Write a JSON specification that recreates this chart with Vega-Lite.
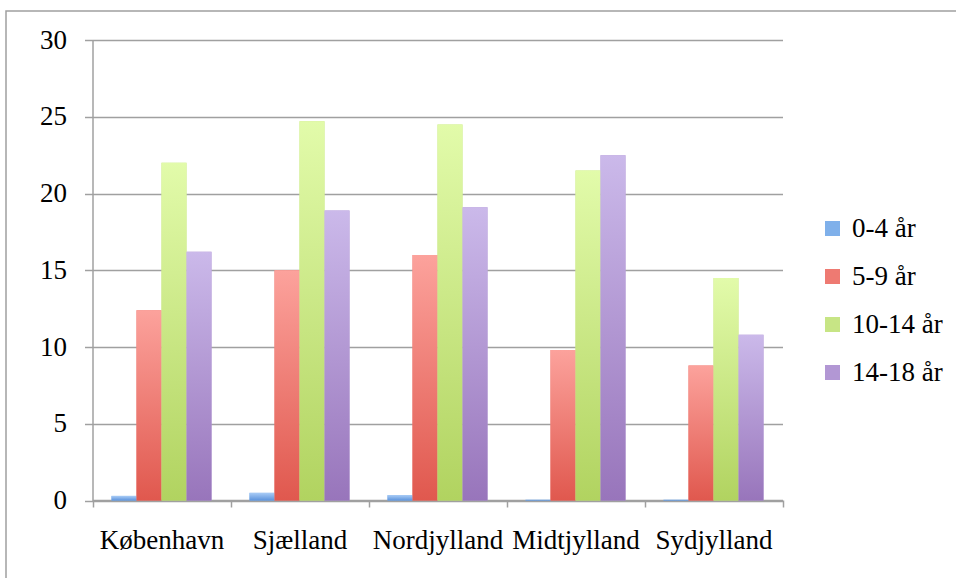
{
  "$schema": "https://vega.github.io/schema/vega-lite/v6.json",
  "width": 953,
  "height": 570,
  "padding": {"left": 6, "top": 11, "right": 0, "bottom": 0},
  "background": "white",
  "config": {
    "view": {"stroke": "#a0a0a0", "strokeWidth": 1.5},
    "font": "Liberation Serif, Times New Roman, serif"
  },
  "data": {
    "values": [
      {"region": "København", "age": "0-4 år", "value": 0.3},
      {"region": "København", "age": "5-9 år", "value": 12.4},
      {"region": "København", "age": "10-14 år", "value": 22.0},
      {"region": "København", "age": "14-18 år", "value": 16.2},
      {"region": "Sjælland", "age": "0-4 år", "value": 0.5},
      {"region": "Sjælland", "age": "5-9 år", "value": 15.0},
      {"region": "Sjælland", "age": "10-14 år", "value": 24.7},
      {"region": "Sjælland", "age": "14-18 år", "value": 18.9},
      {"region": "Nordjylland", "age": "0-4 år", "value": 0.35},
      {"region": "Nordjylland", "age": "5-9 år", "value": 16.0},
      {"region": "Nordjylland", "age": "10-14 år", "value": 24.5},
      {"region": "Nordjylland", "age": "14-18 år", "value": 19.1},
      {"region": "Midtjylland", "age": "0-4 år", "value": 0.05},
      {"region": "Midtjylland", "age": "5-9 år", "value": 9.8},
      {"region": "Midtjylland", "age": "10-14 år", "value": 21.5},
      {"region": "Midtjylland", "age": "14-18 år", "value": 22.5},
      {"region": "Sydjylland", "age": "0-4 år", "value": 0.05},
      {"region": "Sydjylland", "age": "5-9 år", "value": 8.8},
      {"region": "Sydjylland", "age": "10-14 år", "value": 14.5},
      {"region": "Sydjylland", "age": "14-18 år", "value": 10.8}
    ]
  },
  "encoding": {
    "x": {
      "field": "region",
      "type": "nominal",
      "sort": ["København", "Sjælland", "Nordjylland", "Midtjylland", "Sydjylland"],
      "scale": {"type": "band", "range": [86.5, 776.5], "paddingInner": 0, "paddingOuter": 0},
      "axis": {
        "title": null,
        "orient": "bottom",
        "offset": -81,
        "labelAngle": 0,
        "tickBand": "extent",
        "tickSize": 7,
        "tickColor": "#a0a0a0",
        "tickWidth": 1.5,
        "domainColor": "#a0a0a0",
        "domainWidth": 1.5,
        "labelPadding": 20,
        "labelFont": "Liberation Serif, Times New Roman, serif",
        "labelFontSize": 27,
        "labelColor": "#000000",
        "grid": false
      }
    },
    "xOffset": {
      "field": "age",
      "type": "nominal",
      "sort": ["0-4 år", "5-9 år", "10-14 år", "14-18 år"],
      "scale": {"paddingInner": 0, "paddingOuter": 0.76}
    },
    "y": {
      "field": "value",
      "type": "quantitative",
      "scale": {"domain": [0, 30], "range": [489.5, 29], "nice": false, "zero": true},
      "axis": {
        "title": null,
        "offset": -86.5,
        "values": [0, 5, 10, 15, 20, 25, 30],
        "tickSize": 8,
        "tickColor": "#a0a0a0",
        "tickWidth": 1.5,
        "domainColor": "#a0a0a0",
        "domainWidth": 1.5,
        "grid": true,
        "gridColor": "#a0a0a0",
        "gridWidth": 1.5,
        "labelPadding": 18,
        "labelFont": "Liberation Serif, Times New Roman, serif",
        "labelFontSize": 27,
        "labelColor": "#000000"
      }
    }
  },
  "layer": [
    {
      "mark": {"type": "bar"},
      "encoding": {
        "color": {
          "field": "age",
          "type": "nominal",
          "sort": ["0-4 år", "5-9 år", "10-14 år", "14-18 år"],
          "scale": {"range": ["#7fb0ea", "#ee7a72", "#c7e585", "#b297d4"]},
          "legend": {
            "title": null,
            "orient": "none",
            "legendX": 813,
            "legendY": 204,
            "symbolType": "square",
            "symbolSize": 225,
            "symbolStrokeWidth": 0,
            "labelFont": "Liberation Serif, Times New Roman, serif",
            "labelFontSize": 27,
            "labelColor": "#000000",
            "labelOffset": 6,
            "rowPadding": 20,
            "padding": 0
          }
        }
      }
    },
    {
      "transform": [{"filter": "datum.age === '0-4 år'"}],
      "mark": {"type": "bar", "color": {"gradient": "linear", "x1": 0, "y1": 0, "x2": 0, "y2": 1, "stops": [{"offset": 0, "color": "#a9ccf6"}, {"offset": 1, "color": "#5c93dc"}]}}
    },
    {
      "transform": [{"filter": "datum.age === '5-9 år'"}],
      "mark": {"type": "bar", "color": {"gradient": "linear", "x1": 0, "y1": 0, "x2": 0, "y2": 1, "stops": [{"offset": 0, "color": "#fca29c"}, {"offset": 1, "color": "#e0584e"}]}}
    },
    {
      "transform": [{"filter": "datum.age === '10-14 år'"}],
      "mark": {"type": "bar", "color": {"gradient": "linear", "x1": 0, "y1": 0, "x2": 0, "y2": 1, "stops": [{"offset": 0, "color": "#e2fbaa"}, {"offset": 1, "color": "#b1d360"}]}}
    },
    {
      "transform": [{"filter": "datum.age === '14-18 år'"}],
      "mark": {"type": "bar", "color": {"gradient": "linear", "x1": 0, "y1": 0, "x2": 0, "y2": 1, "stops": [{"offset": 0, "color": "#cbb9ea"}, {"offset": 1, "color": "#9875bb"}]}}
    }
  ]
}
